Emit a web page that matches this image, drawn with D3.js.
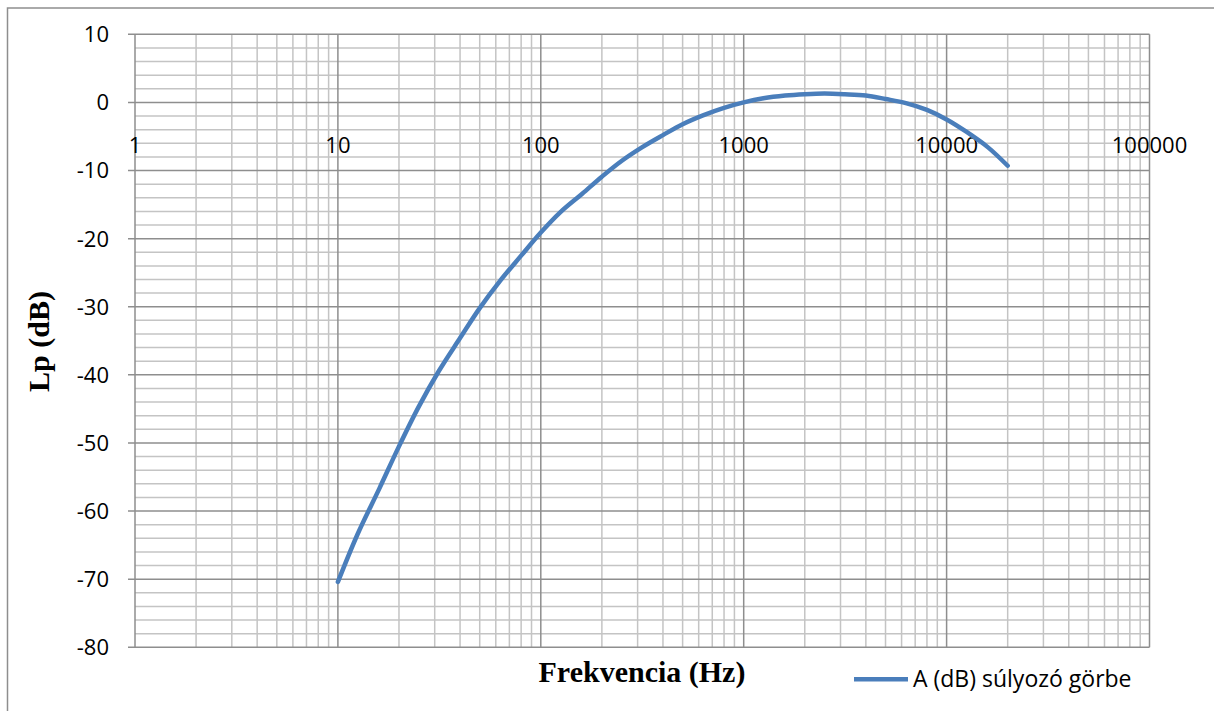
<!DOCTYPE html>
<html><head><meta charset="utf-8">
<script src="https://cdn.jsdelivr.net/npm/d3@7/dist/d3.min.js"></script>
<style>html,body{margin:0;padding:0;background:#fff;}svg{display:block;}</style>
</head><body>
<svg id="c" width="1214" height="711"></svg>
<script>
const freqs = [10,12.5,16,20,25,31.5,40,50,63,80,100,125,160,200,250,315,400,500,630,800,1000,1250,1600,2000,2500,3150,4000,5000,6300,8000,10000,12500,16000,20000];
const levels = [-70.4,-63.4,-56.7,-50.5,-44.7,-39.4,-34.6,-30.2,-26.2,-22.5,-19.1,-16.1,-13.4,-10.9,-8.6,-6.6,-4.8,-3.2,-1.9,-0.8,0,0.6,1.0,1.2,1.3,1.2,1.0,0.5,-0.1,-1.1,-2.5,-4.3,-6.6,-9.3];
const xTicks = [1,10,100,1000,10000,100000];
const yTicks = [10,0,-10,-20,-30,-40,-50,-60,-70,-80];
const seriesName = "A (dB) súlyozó görbe";
const xTitle = "Frekvencia (Hz)";
const yTitle = "Lp (dB)";

const svg = d3.select("#c");
const L = 135, R = 1149.5, T = 34.3, B = 647.3;
const x = d3.scaleLog().domain([1,100000]).range([L,R]);
const y = d3.scaleLinear().domain([-80,10]).range([B,T]);
const FONT = "'Open Sans', 'Noto Sans', sans-serif";

// outer frame
svg.append("rect").attr("x",7.5).attr("y",8).attr("width",1240).attr("height",740)
  .attr("fill","none").attr("stroke","#8e8e8e").attr("stroke-width",1.5);

const g = svg.append("g");
// minor y grid
const yMinor = d3.range(-80,10.001,2);
g.selectAll(".ym").data(yMinor.filter(v=>v%10!==0)).join("line")
  .attr("x1",L).attr("x2",R).attr("y1",d=>y(d)).attr("y2",d=>y(d))
  .attr("stroke","#c4c4c4").attr("stroke-width",1.5);
// minor x grid
const xMinor = [];
for (let e=0;e<5;e++) for (let m=2;m<=9;m++) xMinor.push(m*Math.pow(10,e));
g.selectAll(".xm").data(xMinor).join("line")
  .attr("x1",d=>x(d)).attr("x2",d=>x(d)).attr("y1",T).attr("y2",B)
  .attr("stroke","#c4c4c4").attr("stroke-width",1.5);
// major y grid
g.selectAll(".yM").data(yTicks).join("line")
  .attr("x1",L-7).attr("x2",R).attr("y1",d=>y(d)).attr("y2",d=>y(d))
  .attr("stroke","#8e8e8e").attr("stroke-width",1.5);
// major x grid
g.selectAll(".xM").data(xTicks).join("line")
  .attr("x1",d=>x(d)).attr("x2",d=>x(d)).attr("y1",T).attr("y2",B)
  .attr("stroke","#8e8e8e").attr("stroke-width",1.5);

// y labels
g.selectAll(".yl").data(yTicks).join("text")
  .attr("x",109).attr("y",d=>y(d)).attr("dy","0.36em")
  .attr("text-anchor","end").attr("font-family",FONT)
  .attr("font-size",22).attr("fill","#000").text(d=>d);
// x labels at y=0 line
g.selectAll(".xl").data(xTicks).join("text")
  .attr("x",d=>x(d)).attr("y",153)
  .attr("text-anchor","middle").attr("font-family",FONT)
  .attr("font-size",22).attr("fill","#000").text(d=>d);

// curve
const line = d3.line().x((d,i)=>x(freqs[i])).y(d=>y(d)).curve(d3.curveCatmullRom.alpha(0.5));
svg.append("path").datum(levels).attr("d",line).attr("fill","none")
  .attr("stroke","#4a7ebb").attr("stroke-width",4.5).attr("stroke-linecap","round");

// titles
svg.append("text").attr("x",642).attr("y",682).attr("text-anchor","middle")
  .attr("font-family","'Liberation Serif','Times New Roman',serif").attr("font-weight","bold")
  .attr("font-size",30).text(xTitle);
svg.append("text").attr("transform","translate(49,341.5) rotate(-90)").attr("text-anchor","middle")
  .attr("font-family","'Liberation Serif','Times New Roman',serif").attr("font-weight","bold")
  .attr("font-size",30).text(yTitle);

// legend
svg.append("line").attr("x1",854).attr("x2",908).attr("y1",679.3).attr("y2",679.3)
  .attr("stroke","#4a7ebb").attr("stroke-width",4.5);
svg.append("text").attr("x",913).attr("y",687).attr("font-family",FONT)
  .attr("font-size",23).attr("fill","#000").text(seriesName);
</script>
</body></html>
